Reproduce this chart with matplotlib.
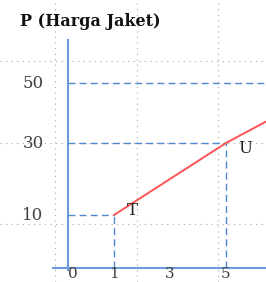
import numpy as np
import matplotlib
matplotlib.use('Agg')
import matplotlib.pyplot as plt
from matplotlib.transforms import blended_transform_factory

# points of the supply line
q_points = [1, 5]
p_points = [10, 30]
point_names = ['T', 'U']
p_guides = [50, 30, 10]
q_labels = [0, 1, 3, 5]
line_q = [1, 5, 8]
line_p = [10, 30, 45]

plt.rcParams['font.family'] = ['DejaVu Serif']

fig = plt.figure(figsize=(2.66, 2.82), dpi=100)

# background with the page grid (pixel coords)
bg = fig.add_axes([0, 0, 1, 1])
bg.set_xlim(0, 266)
bg.set_ylim(282, 0)
bg.axis('off')
grid_kw = dict(color='#a8a8a8', lw=0.8, ls=(0, (1, 4)))
for gx in [55, 137, 218]:
    bg.axvline(gx, **grid_kw)
for gy in [61, 143, 224]:
    bg.axhline(gy, **grid_kw)

# hand-drawn diagram scale (not quite linear)
xd = [-3, 0, 1, 5, 8]
xp = [-16, 68, 114, 226, 310]
yd = [-10, 0, 10, 30, 50, 80]
yp = [-39, 14, 67, 139, 199, 289]

def fx(v):
    return np.interp(v, xd, xp)

def ix(v):
    return np.interp(v, xp, xd)

def fy(v):
    return np.interp(v, yd, yp)

def iy(v):
    return np.interp(v, yp, yd)

ax = fig.add_axes([0, 0, 1, 1])
ax.patch.set_alpha(0)
ax.set_xscale('function', functions=(fx, ix))
ax.set_yscale('function', functions=(fy, iy))
ax.set_xlim(ix(0), ix(266))
ax.set_ylim(iy(0), iy(282))
ax.axis('off')

blue = '#6b9bd8'
dash_blue = '#4f86d2'
ax.axvline(0, ymin=12 / 282, ymax=242 / 282, color=blue, lw=1.5)
ax.axhline(0, xmin=53 / 266, xmax=1, color=blue, lw=1.5)

dash_kw = dict(color=dash_blue, lw=1.0, ls=(0, (5, 3)))
ax.plot([0, 8], [p_guides[0], p_guides[0]], **dash_kw)
for q, p in zip(q_points, p_points):
    ax.plot([0, q], [p, p], **dash_kw)
    ax.plot([q, q], [0, p], **dash_kw)

ax.plot(line_q, line_p, color='#ff5252', lw=1.4)

offsets = [(13, 3), (14, -4)]
for q, p, name, off in zip(q_points, p_points, point_names, offsets):
    ax.annotate(name, xy=(q, p), xytext=off, textcoords='offset points',
                ha='center', va='center', fontsize=12, color='#222222')

tr_y = blended_transform_factory(bg.transData, ax.transData)
for p in p_guides:
    ax.text(33, p, str(p), transform=tr_y, ha='center', va='center',
            fontsize=12, color='#404040')

tr_x = blended_transform_factory(ax.transData, bg.transData)
for q in q_labels:
    ax.text(q, 281, str(q), transform=tr_x, ha='left' if q == 0 else 'center',
            va='bottom', fontsize=11, color='#404040')

bg.text(20, 22, 'P (Harga Jaket)', fontsize=11.5, fontweight='bold',
        ha='left', va='center', color='#111111')

fig.savefig('out.png', dpi=100)
